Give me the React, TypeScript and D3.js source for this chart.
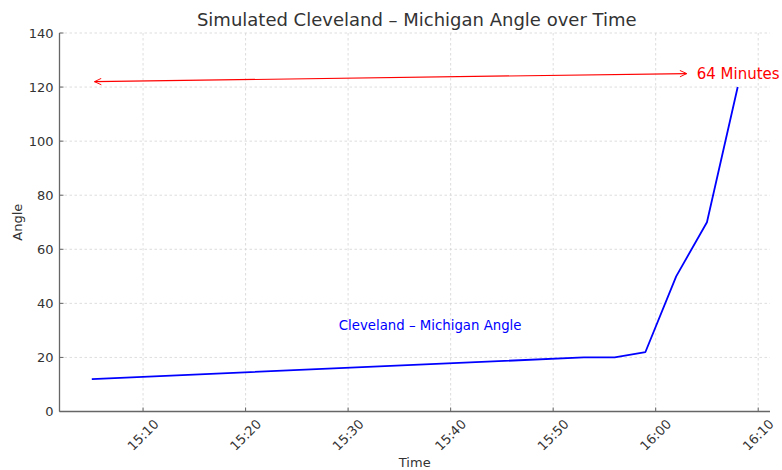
import React from "react";
import * as d3 from "d3";

const times = ["15:05", "15:53", "15:56", "15:59", "16:02", "16:05", "16:08"];
const angles = [12, 20, 20, 22, 50, 70, 120];
const xTickLabels = ["15:10", "15:20", "15:30", "15:40", "15:50", "16:00", "16:10"];
const yTicks = [0, 20, 40, 60, 80, 100, 120, 140];
const arrowStart = { time: "15:05", value: 122 };
const arrowLabelPos = { time: "16:04", value: 125 };
const arrowLabel = "64 Minutes";
const seriesLabel = "Cleveland – Michigan Angle";
const seriesLabelPos = { time: "15:38", value: 31.8 };

const W = 782;
const H = 470;
const M = { left: 59.5, right: 770, top: 33, bottom: 411.5 };
const FONT = "DejaVu Sans, sans-serif";

const parse = (s: string) => {
  const [h, m] = s.split(":").map(Number);
  return new Date(2024, 0, 1, h, m);
};

export default function App() {
  const tDates = times.map(parse);
  const ext = d3.extent(tDates) as [Date, Date];
  const span = ext[1].getTime() - ext[0].getTime();
  const x = d3
    .scaleTime()
    .domain([new Date(ext[0].getTime() - span * 0.05), new Date(ext[1].getTime() + span * 0.05)])
    .range([M.left, M.right]);
  const y = d3.scaleLinear().domain([0, 140]).range([M.bottom, M.top]);

  const data = tDates.map((d, i) => ({ t: d, v: angles[i] }));
  const line = d3
    .line<{ t: Date; v: number }>()
    .x((d) => x(d.t))
    .y((d) => y(d.v));

  const ax1 = x(parse(arrowStart.time)) + 2.7;
  const ay1 = y(arrowStart.value);
  const lx = x(parse(arrowLabelPos.time));
  const ly = y(arrowLabelPos.value);
  const ax2 = lx - 10;
  const ay2 = ly;

  const grid = "#d4d4d4";
  const textCol = "#333";
  const spine = "#666";

  return (
    <svg width={W} height={H} style={{ position: "absolute", left: 0, top: 0, background: "#fff" }}>
      <defs>
        <marker id="ah" viewBox="0 0 10 10" refX="9.5" refY="5" markerWidth="8" markerHeight="8" orient="auto-start-reverse" markerUnits="userSpaceOnUse">
          <path d="M1,1 L9.5,5 L1,9" fill="none" stroke="red" strokeWidth="1.2" />
        </marker>
      </defs>
      {/* grid */}
      {xTickLabels.map((l) => (
        <line key={"gx" + l} x1={x(parse(l))} x2={x(parse(l))} y1={M.top} y2={M.bottom} stroke={grid} strokeDasharray="2.5,2.5" strokeWidth={0.8} />
      ))}
      {yTicks.map((v) => (
        <line key={"gy" + v} x1={M.left} x2={M.right} y1={y(v)} y2={y(v)} stroke={grid} strokeDasharray="2.5,2.5" strokeWidth={0.8} />
      ))}
      {/* spines */}
      <line x1={M.left} x2={M.left} y1={M.top} y2={M.bottom} stroke={spine} strokeWidth={1.3} />
      <line x1={M.left} x2={M.right} y1={M.bottom} y2={M.bottom} stroke={spine} strokeWidth={1.3} />
      {/* ticks */}
      {yTicks.map((v) => (
        <g key={"ty" + v}>
          <line x1={M.left} x2={M.left + 4} y1={y(v)} y2={y(v)} stroke={spine} strokeWidth={1} />
          <text x={M.left - 6} y={y(v)} textAnchor="end" dominantBaseline="central" fontFamily={FONT} fontSize={13} fill={textCol}>
            {v}
          </text>
        </g>
      ))}
      {xTickLabels.map((l) => {
        const px = x(parse(l));
        return (
          <g key={"tx" + l}>
            <line x1={px} x2={px} y1={M.bottom} y2={M.bottom - 4} stroke={spine} strokeWidth={1} />
            <text
              x={px}
              y={435}
              textAnchor="middle"
              dominantBaseline="central"
              transform={`rotate(-45, ${px}, 435)`}
              fontFamily={FONT}
              fontSize={13}
              fill={textCol}
            >
              {l}
            </text>
          </g>
        );
      })}
      {/* axis labels */}
      <text x={(M.left + M.right) / 2} y={467} textAnchor="middle" fontFamily={FONT} fontSize={13} fill={textCol}>
        Time
      </text>
      <text x={22} y={(M.top + M.bottom) / 2} textAnchor="middle" transform={`rotate(-90, 22, ${(M.top + M.bottom) / 2})`} fontFamily={FONT} fontSize={13} fill={textCol}>
        Angle
      </text>
      {/* title */}
      <text x={(M.left + M.right) / 2 + 2} y={26} textAnchor="middle" fontFamily={FONT} fontSize={18} fill={textCol}>
        Simulated Cleveland – Michigan Angle over Time
      </text>
      {/* series */}
      <path d={line(data) || ""} fill="none" stroke="blue" strokeWidth={1.8} strokeLinejoin="round" />
      <text x={x(parse(seriesLabelPos.time))} y={y(seriesLabelPos.value)} textAnchor="middle" dominantBaseline="central" fontFamily={FONT} fontSize={13.3} fill="blue">
        {seriesLabel}
      </text>
      {/* annotation */}
      <line x1={ax1} y1={ay1} x2={ax2} y2={ay2} stroke="red" strokeWidth={1.2} markerStart="url(#ah)" markerEnd="url(#ah)" />
      <text x={lx} y={ly} dominantBaseline="central" fontFamily={FONT} fontSize={15} fill="red">
        {arrowLabel}
      </text>
    </svg>
  );
}
